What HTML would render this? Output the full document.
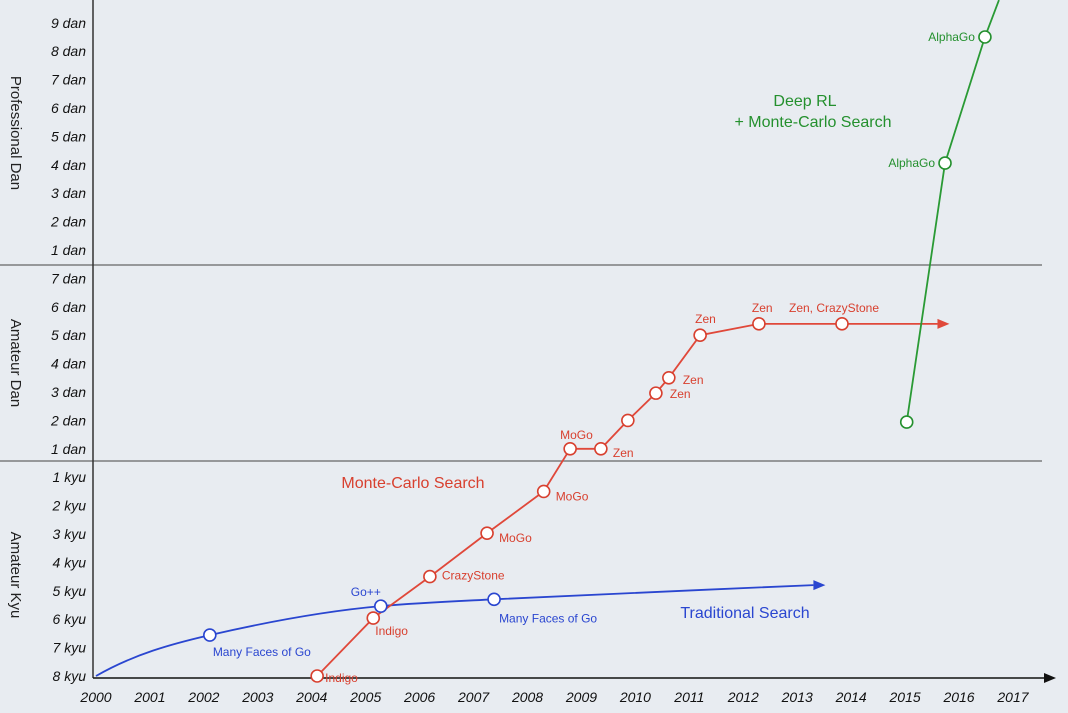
<!DOCTYPE html>
<html><head><meta charset="utf-8"><style>
html,body{margin:0;padding:0;background:#e8ecf1;}
svg{display:block;font-family:"Liberation Sans",sans-serif;}
</style></head><body>
<svg id="chart" width="1068" height="713" viewBox="0 0 1068 713">
<rect x="0" y="0" width="1068" height="713" fill="#e8ecf1"/>
<g id="g"></g>
</svg>
<script>
const years=[2000,2001,2002,2003,2004,2005,2006,2007,2008,2009,2010,2011,2012,2013,2014,2015,2016,2017];
const rankLabels=["8 kyu","7 kyu","6 kyu","5 kyu","4 kyu","3 kyu","2 kyu","1 kyu","1 dan","2 dan","3 dan","4 dan","5 dan","6 dan","7 dan","1 dan","2 dan","3 dan","4 dan","5 dan","6 dan","7 dan","8 dan","9 dan"];
const blueX=[2000,2002.11,2005.28,2007.38];
const blueY=[0,1.44,2.46,2.7];
const blueNames=["","Many Faces of Go","Go++","Many Faces of Go"];
const redX=[2004.1,2005.14,2006.19,2007.25,2008.3,2008.79,2009.36,2009.86,2010.38,2010.62,2011.2,2012.29,2013.83];
const redY=[0,2.04,3.5,5.03,6.5,8,8,9,9.96,10.5,12,12.4,12.4];
const redNames=["Indigo","Indigo","CrazyStone","MoGo","MoGo","MoGo","Zen","","Zen","Zen","Zen","Zen","Zen, CrazyStone"];
const greenX=[2015.03,2015.74,2016.48];
const greenY=[8.94,18.06,22.5];
const greenNames=["","AlphaGo","AlphaGo"];
const NS="http://www.w3.org/2000/svg";
const g=document.getElementById('g');
const X=v=>96+(v-2000)*53.94;
const Y=v=>676-v*28.4;
function el(t,a,p){const e=document.createElementNS(NS,t);for(const k in a)e.setAttribute(k,a[k]);(p||g).appendChild(e);return e;}
function txt(x,y,s,a){const e=el('text',Object.assign({x:x,y:y},a));e.textContent=s;return e;}
let e;
e=el('line',{x1:0,x2:1042,y1:461,y2:461,stroke:'#666','stroke-width':1.2});

e=el('line',{x1:0,x2:1042,y1:265,y2:265,stroke:'#666','stroke-width':1.2});

e=el('line',{x1:93,x2:93,y1:0,y2:678,stroke:'#333','stroke-width':1.5});

e=el('line',{x1:93,x2:1046,y1:678,y2:678,stroke:'#111','stroke-width':1.5});

e=el('polygon',{points:'1056,678 1044,673 1044,683',fill:'#111'});

years.forEach(y=>{const t=txt(X(y),702,String(y),{'text-anchor':'middle','font-size':14,'font-style':'italic',fill:'#111'});
});
rankLabels.forEach((r,i)=>{const t=txt(86,Y(i)+5,r,{'text-anchor':'end','font-size':14,'font-style':'italic',fill:'#111'});
});
[["Professional Dan",133],["Amateur Dan",363],["Amateur Kyu",575]].forEach(([s,cy])=>{
const t=txt(0,0,s,{'text-anchor':'middle','font-size':15,fill:'#222',transform:`translate(11,${cy}) rotate(90)`});
});
function path(xs,ys){let d=`M${X(xs[0])},${Y(ys[0])}`;for(let i=1;i<xs.length;i++)d+=` L${X(xs[i])},${Y(ys[i])}`;return d;}
// blue smooth curve (monotone cubic through points)
const bx=blueX.concat([2013.3]),by=blueY.concat([3.2]);
const px=bx.map(X),py=by.map(Y);
const n=px.length,sl=[];
for(let i=0;i<n;i++){
 if(i===0)sl.push((py[1]-py[0])/(px[1]-px[0])*1.6);
 else if(i===n-1)sl.push((py[n-1]-py[n-2])/(px[n-1]-px[n-2]));
 else{const a=(py[i]-py[i-1])/(px[i]-px[i-1]),b=(py[i+1]-py[i])/(px[i+1]-px[i]);sl.push(a*b<=0?0:2/(1/a+1/b));}}
let bd=`M${px[0]},${py[0]}`;
for(let i=1;i<n;i++){const h=(px[i]-px[i-1])/3;
bd+=` C${px[i-1]+h},${py[i-1]+sl[i-1]*h} ${px[i]-h},${py[i]-sl[i]*h} ${px[i]},${py[i]}`;}
e=el('path',{d:bd,fill:'none',stroke:'#2a46d0','stroke-width':1.8});

e=el('polygon',{points:`${X(2013.3)+12},${Y(3.2)} ${X(2013.3)},${Y(3.2)-5} ${X(2013.3)},${Y(3.2)+5}`,fill:'#2a46d0'});

e=el('path',{d:path(redX.concat([2015.6]),redY.concat([12.4])),fill:'none',stroke:'#e0483a','stroke-width':1.8});

e=el('polygon',{points:`${X(2015.6)+12},${Y(12.4)} ${X(2015.6)},${Y(12.4)-5} ${X(2015.6)},${Y(12.4)+5}`,fill:'#e0483a'});

e=el('path',{d:path(greenX.concat([2016.74]),greenY.concat([23.8])),fill:'none',stroke:'#2a9a35','stroke-width':1.8});

const redOff=[[8,6],[2,17],[12,3],[12,9],[12,9],[-10,-10],[12,8],[0,0],[14,5],[14,6],[-5,-12],[-7,-12],[-53,-12]];
const blueOff=[[0,0],[3,21],[-30,-10],[5,23]];
function pts(xs,ys,names,col,offs,anchor,nm){xs.forEach((x,i)=>{
 if(!(nm==='blue'&&i===0)){const c=el('circle',{cx:X(x),cy:Y(ys[i]),r:6,fill:'#fff',stroke:col,'stroke-width':1.6});
 }
 if(names[i]){const o=offs[i];const t=txt(X(x)+o[0],Y(ys[i])+o[1],names[i],{'font-size':12,fill:col,'text-anchor':anchor?anchor[i]:'start'});
 }});}
pts(redX,redY,redNames,'#d8402f',redOff,null,'red');
pts(blueX,blueY,blueNames,'#2a46d0',blueOff,null,'blue');
pts(greenX,greenY,greenNames,'#24902e',[[0,0],[-10,4],[-10,4]],['start','end','end'],'green');
[["Monte-Carlo Search",413,488,'#d8402f'],["Traditional Search",745,618,'#2a46d0'],["Deep RL",805,106,'#24902e'],["+ Monte-Carlo Search",813,127,'#24902e']].forEach(([s,x,y,c])=>{
const t=txt(x,y,s,{'text-anchor':'middle','font-size':16,fill:c});
});
</script>
</body></html>
